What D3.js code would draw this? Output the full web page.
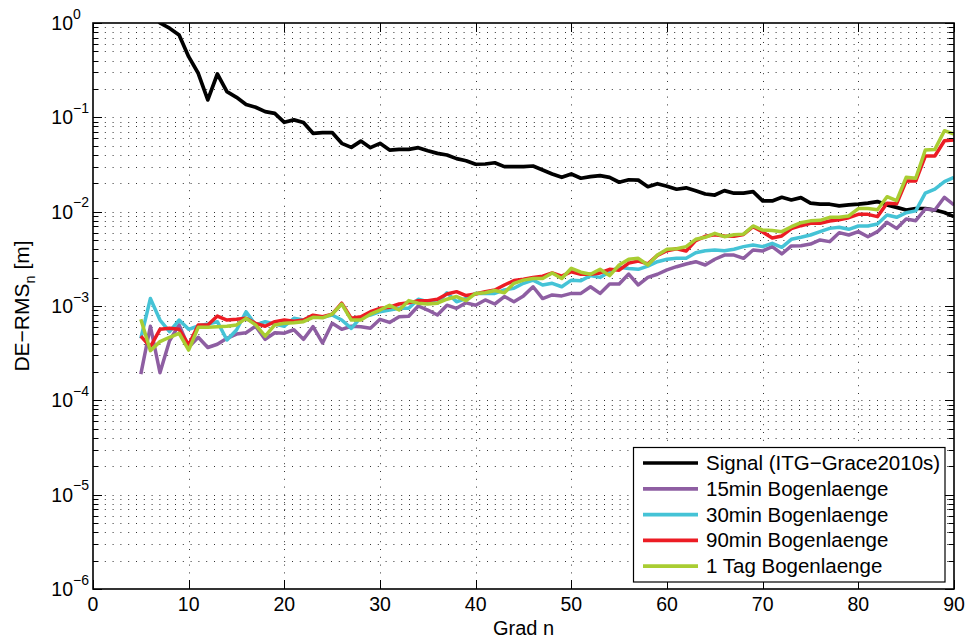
<!DOCTYPE html>
<html>
<head>
<meta charset="utf-8">
<script src="https://cdn.jsdelivr.net/npm/d3@7"></script>
<style>
  html, body { margin: 0; padding: 0; background: #fff; }
  svg { display: block; font-family: "Liberation Sans", Arial, Helvetica, sans-serif; }
</style>
</head>
<body>
<svg id="chart" width="968" height="639"></svg>
<script>
// Spherical harmonic degree n
const degrees = d3.range(5, 91);

// Degree RMS [m] per degree n = 5 … 90
const signal = [
  2.2, 1.4, 1.0, 0.88, 0.746, 0.44, 0.293, 0.153, 0.288, 0.187,
  0.163, 0.137, 0.128, 0.115, 0.110, 0.0886, 0.094, 0.088, 0.0677, 0.069,
  0.069, 0.053, 0.048, 0.056, 0.0477, 0.053, 0.045, 0.0458, 0.0458, 0.0477,
  0.0443, 0.0415, 0.0399, 0.0365, 0.0347, 0.0318, 0.032, 0.033, 0.030, 0.030,
  0.030, 0.0305, 0.0277, 0.0251, 0.0231, 0.0251, 0.0226, 0.0235, 0.0241, 0.0231,
  0.0205, 0.0218, 0.0216, 0.0184, 0.0198, 0.0186, 0.0173, 0.0179, 0.0167, 0.0154,
  0.015, 0.0167, 0.0157, 0.0157, 0.0163, 0.013, 0.013, 0.0142, 0.0133, 0.0141,
  0.0123, 0.012, 0.012, 0.0115, 0.0118, 0.012, 0.0123, 0.0128, 0.0118, 0.0111,
  0.0104, 0.0108, 0.0108, 0.0104, 0.0098, 0.00885
];
const arc15min = [
  1.9e-4, 6.1e-4, 1.96e-4, 4.28e-4, 6.3e-4, 3.65e-4, 4.66e-4, 3.63e-4, 3.93e-4, 4.54e-4,
  5.04e-4, 5.21e-4, 6.1e-4, 4.43e-4, 5.21e-4, 5.15e-4, 5.6e-4, 4.43e-4, 6.05e-4, 4.05e-4,
  6.55e-4, 5.66e-4, 6.1e-4, 6.04e-4, 5.8e-4, 7.22e-4, 6.7e-4, 7.7e-4, 7.8e-4, 1.0e-3,
  9.06e-4, 8.02e-4, 1.02e-3, 9.45e-4, 1.08e-3, 1.02e-3, 1.16e-3, 1.05e-3, 1.26e-3, 1.11e-3,
  1.28e-3, 1.6e-3, 1.2e-3, 1.31e-3, 1.28e-3, 1.36e-3, 1.36e-3, 1.6e-3, 1.36e-3, 1.71e-3,
  1.71e-3, 2.18e-3, 1.67e-3, 2.01e-3, 2.17e-3, 2.41e-3, 2.61e-3, 2.79e-3, 2.95e-3, 2.72e-3,
  3.13e-3, 3.47e-3, 3.47e-3, 3.2e-3, 3.92e-3, 3.83e-3, 4.26e-3, 3.56e-3, 4.33e-3, 4.35e-3,
  4.54e-3, 5.01e-3, 4.81e-3, 5.99e-3, 5.66e-3, 6.14e-3, 5.43e-3, 6.14e-3, 7.7e-3, 6.65e-3,
  8.36e-3, 8.03e-3, 1.067e-2, 1.04e-2, 1.42e-2, 1.18e-2
];
const arc30min = [
  4.54e-4, 1.2e-3, 7.1e-4, 5.35e-4, 7.1e-4, 5.66e-4, 6.14e-4, 6.44e-4, 6.82e-4, 4.36e-4,
  5.56e-4, 8.7e-4, 6.3e-4, 6.82e-4, 6.44e-4, 6.1e-4, 7.4e-4, 7.1e-4, 7.8e-4, 7.6e-4,
  8.02e-4, 7.1e-4, 5.8e-4, 7.58e-4, 8.02e-4, 8.7e-4, 9.06e-4, 9.45e-4, 9.45e-4, 1.18e-3,
  1.11e-3, 1.07e-3, 1.38e-3, 1.11e-3, 1.2e-3, 1.36e-3, 1.36e-3, 1.36e-3, 1.48e-3, 1.54e-3,
  1.74e-3, 1.88e-3, 1.67e-3, 1.74e-3, 1.6e-3, 1.88e-3, 1.85e-3, 2.1e-3, 2.01e-3, 2.31e-3,
  2.57e-3, 2.5e-3, 2.45e-3, 2.65e-3, 2.95e-3, 3.13e-3, 3.2e-3, 3.2e-3, 3.67e-3, 3.86e-3,
  3.92e-3, 3.86e-3, 3.99e-3, 4.26e-3, 4.43e-3, 4.26e-3, 4.62e-3, 4.19e-3, 5.09e-3, 5.35e-3,
  5.66e-3, 6.14e-3, 6.65e-3, 6.83e-3, 6.5e-3, 7.05e-3, 7.05e-3, 7.4e-3, 9.22e-3, 8.71e-3,
  9.75e-3, 1.02e-2, 1.57e-2, 1.73e-2, 2.08e-2, 2.31e-2
];
const arc90min = [
  4.8e-4, 3.7e-4, 5.66e-4, 5.8e-4, 5.66e-4, 3.86e-4, 6.3e-4, 6.3e-4, 7.83e-4, 7.1e-4,
  7.22e-4, 7.4e-4, 6.55e-4, 6.1e-4, 6.82e-4, 7.1e-4, 6.9e-4, 7.1e-4, 8.0e-4, 7.7e-4,
  8.2e-4, 1.07e-3, 7.4e-4, 7.7e-4, 8.7e-4, 9.45e-4, 9.7e-4, 1.05e-3, 1.08e-3, 1.14e-3,
  1.14e-3, 1.18e-3, 1.34e-3, 1.42e-3, 1.29e-3, 1.34e-3, 1.42e-3, 1.48e-3, 1.67e-3, 1.86e-3,
  1.92e-3, 2.01e-3, 2.07e-3, 2.24e-3, 2.07e-3, 2.31e-3, 2.17e-3, 2.17e-3, 2.24e-3, 2.45e-3,
  2.4e-3, 2.85e-3, 3.0e-3, 2.8e-3, 3.44e-3, 3.86e-3, 4.05e-3, 3.83e-3, 4.93e-3, 5.48e-3,
  5.7e-3, 5.53e-3, 5.48e-3, 5.74e-3, 6.93e-3, 6.08e-3, 5.26e-3, 5.53e-3, 6.6e-3, 7.1e-3,
  7.52e-3, 7.55e-3, 7.96e-3, 8.2e-3, 8.63e-3, 9.37e-3, 9.37e-3, 8.86e-3, 1.23e-2, 1.21e-2,
  2.11e-2, 2.11e-2, 3.89e-2, 3.89e-2, 5.65e-2, 5.75e-2
];
const arc1day = [
  7.22e-4, 3.36e-4, 4.19e-4, 4.66e-4, 5.13e-4, 3.41e-4, 5.94e-4, 5.94e-4, 6.04e-4, 6.1e-4,
  6.3e-4, 7.4e-4, 6.3e-4, 4.8e-4, 6.3e-4, 6.55e-4, 6.65e-4, 6.82e-4, 7.58e-4, 7.5e-4,
  8.2e-4, 1.05e-3, 7.1e-4, 7.1e-4, 8.2e-4, 9.06e-4, 1.02e-3, 9.06e-4, 1.14e-3, 1.07e-3,
  1.05e-3, 1.07e-3, 1.18e-3, 1.26e-3, 1.14e-3, 1.36e-3, 1.38e-3, 1.46e-3, 1.38e-3, 1.74e-3,
  1.88e-3, 1.96e-3, 1.96e-3, 2.24e-3, 1.96e-3, 2.51e-3, 2.28e-3, 2.17e-3, 2.45e-3, 2.1e-3,
  2.72e-3, 3.13e-3, 3.2e-3, 2.72e-3, 3.47e-3, 3.99e-3, 4.05e-3, 4.26e-3, 5.09e-3, 5.35e-3,
  5.89e-3, 5.43e-3, 5.7e-3, 5.78e-3, 7.05e-3, 6.39e-3, 6.3e-3, 6.14e-3, 6.93e-3, 7.64e-3,
  7.99e-3, 8.1e-3, 8.71e-3, 8.71e-3, 9.0e-3, 1.08e-2, 1.08e-2, 1.05e-2, 1.44e-2, 1.31e-2,
  2.31e-2, 2.26e-2, 4.5e-2, 4.57e-2, 7.22e-2, 6.65e-2
];

const seriesNames = [
  "Signal (ITG\u2212Grace2010s)",
  "15min Bogenlaenge",
  "30min Bogenlaenge",
  "90min Bogenlaenge",
  "1 Tag Bogenlaenge"
];
const seriesColors = ["#000000", "#8e5ea2", "#45c3d6", "#ec1c24", "#a9cd32"];
const seriesValues = [signal, arc15min, arc30min, arc90min, arc1day];

const xTicks = [0, 10, 20, 30, 40, 50, 60, 70, 80, 90];
const yExponents = [0, -1, -2, -3, -4, -5, -6];

// ---- layout ----
const plot = { left: 93, right: 954, top: 23, bottom: 589 };

const svg = d3.select("#chart");
const x = d3.scaleLinear().domain([0, 90]).range([plot.left, plot.right]);
const y = d3.scaleLog().domain([1e-6, 1]).range([plot.bottom, plot.top]);

// major + minor log positions
const logTicks = [];
for (let e = -6; e < 0; e++) {
  for (let m = 1; m <= 9; m++) logTicks.push(m * Math.pow(10, e));
}
logTicks.push(1);

// dotted grid: every decade subdivision horizontally, every 10 degrees vertically
const grid = svg.append("g").attr("stroke", "#333").attr("stroke-width", 1)
  .attr("stroke-dasharray", "1,6.8").attr("fill", "none");

grid.selectAll("line.h").data(logTicks.filter(v => v > 1e-6 && v < 1)).join("line")
  .attr("x1", plot.left).attr("x2", plot.right)
  .attr("y1", d => Math.round(y(d)) + 0.5).attr("y2", d => Math.round(y(d)) + 0.5)
  .attr("stroke-dashoffset", -4);

grid.selectAll("line.v").data(xTicks.filter(v => v > 0 && v < 90)).join("line")
  .attr("x1", d => Math.round(x(d)) + 0.5).attr("x2", d => Math.round(x(d)) + 0.5)
  .attr("y1", plot.bottom).attr("y2", plot.top);

// ---- data lines ----
svg.append("clipPath").attr("id", "plotclip").append("rect")
  .attr("x", plot.left).attr("y", plot.top)
  .attr("width", plot.right - plot.left).attr("height", plot.bottom - plot.top);

const line = d3.line().x(d => x(d[0])).y(d => y(d[1]));
const lines = svg.append("g").attr("clip-path", "url(#plotclip)");
seriesValues.forEach((vals, i) => {
  lines.append("path")
    .datum(degrees.map((n, k) => [n, vals[k]]))
    .attr("d", line)
    .attr("fill", "none")
    .attr("stroke", seriesColors[i])
    .attr("stroke-width", i === 0 ? 3.7 : 3.5)
    .attr("stroke-linejoin", "round");
});

// ---- axes box & ticks ----
const axes = svg.append("g").attr("stroke", "#000");
const majorLen = 9, minorLen = 5.5;
logTicks.forEach(v => {
  const isMajor = Math.abs(Math.log10(v) - Math.round(Math.log10(v))) < 1e-9;
  const len = isMajor ? majorLen : minorLen;
  const yy = Math.round(y(v)) + 0.5;
  axes.append("line").attr("x1", plot.left).attr("x2", plot.left + len)
    .attr("y1", yy).attr("y2", yy).attr("stroke-width", 1);
  axes.append("line").attr("x1", plot.right).attr("x2", plot.right - len)
    .attr("y1", yy).attr("y2", yy).attr("stroke-width", 1);
});
xTicks.forEach(v => {
  const xx = Math.round(x(v)) + 0.5;
  axes.append("line").attr("x1", xx).attr("x2", xx)
    .attr("y1", plot.bottom).attr("y2", plot.bottom - majorLen).attr("stroke-width", 1);
  axes.append("line").attr("x1", xx).attr("x2", xx)
    .attr("y1", plot.top).attr("y2", plot.top + majorLen).attr("stroke-width", 1);
});
axes.append("rect")
  .attr("x", plot.left).attr("y", plot.top)
  .attr("width", plot.right - plot.left).attr("height", plot.bottom - plot.top)
  .attr("fill", "none").attr("stroke-width", 1.6);

// ---- tick labels ----
const labels = svg.append("g").attr("fill", "#000");
xTicks.forEach(v => {
  labels.append("text").attr("x", x(v)).attr("y", 611)
    .attr("text-anchor", "middle").attr("font-size", 19.5).text(v);
});
yExponents.forEach(e => {
  const yy = y(Math.pow(10, e));
  labels.append("text").attr("x", 73).attr("y", yy + 7)
    .attr("text-anchor", "end").attr("font-size", 19.5).text("10");
  labels.append("text").attr("x", 73).attr("y", yy - 4.5).attr("font-size", 14)
    .text(e === 0 ? "0" : "\u2212" + Math.abs(e));
});

// ---- axis titles ----
svg.append("text").attr("x", (plot.left + plot.right) / 2).attr("y", 635)
  .attr("text-anchor", "middle").attr("font-size", 20).text("Grad n");

const yt = svg.append("text")
  .attr("transform", `translate(29,${(plot.top + plot.bottom) / 2}) rotate(-90)`)
  .attr("text-anchor", "middle").attr("font-size", 21);
yt.append("tspan").text("DE\u2212RMS");
yt.append("tspan").attr("font-size", 14.5).attr("dy", 5.5).text("n");
yt.append("tspan").attr("dy", -5.5).text(" [m]");

// ---- legend ----
const lg = svg.append("g");
lg.append("rect").attr("x", 633.5).attr("y", 447.5).attr("width", 311.5).attr("height", 134.5)
  .attr("fill", "#fff").attr("stroke", "#000").attr("stroke-width", 1.2);
seriesNames.forEach((name, i) => {
  const yy = 463 + i * 25.8;
  lg.append("line").attr("x1", 643).attr("x2", 698).attr("y1", yy).attr("y2", yy)
    .attr("stroke", seriesColors[i]).attr("stroke-width", 3.7);
  lg.append("text").attr("x", 706).attr("y", yy + 7).attr("font-size", 20.5).text(name);
});
</script>
</body>
</html>
